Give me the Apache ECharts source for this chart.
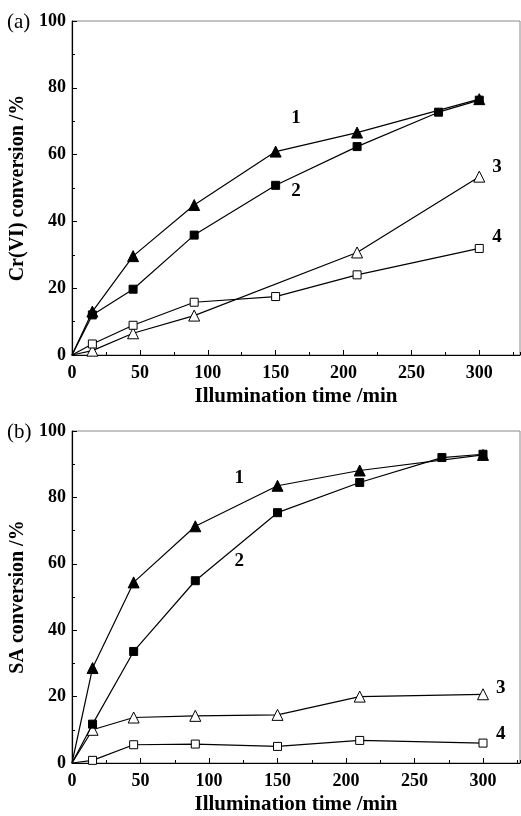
<!DOCTYPE html>
<html>
<head>
<meta charset="utf-8">
<script src="https://cdn.jsdelivr.net/npm/echarts@6/dist/echarts.min.js"></script>
<style>
  html, body { margin: 0; padding: 0; background: #fff; }
  #chart { width: 521px; height: 816px; }
</style>
</head>
<body>
<div id="chart"></div>
<script>
// Panel (a): Cr(VI) conversion vs. illumination time
const aTime1 = [0, 15, 45, 90, 150, 210, 300];
const aConv1 = [0, 13.0, 29.6, 44.9, 60.9, 66.6, 76.6];
const aTime2 = [0, 15, 45, 90, 150, 210, 270, 300];
const aConv2 = [0, 12.0, 19.7, 35.9, 50.8, 62.4, 72.7, 76.3];
const aTime3 = [0, 15, 45, 90, 210, 300];
const aConv3 = [0, 1.3, 6.5, 11.8, 30.7, 53.4];
const aTime4 = [0, 15, 45, 90, 150, 210, 300];
const aConv4 = [0, 3.3, 8.9, 15.8, 17.5, 24.0, 31.9];

// Panel (b): SA conversion vs. illumination time
const bTime1 = [0, 15, 45, 90, 150, 210, 300];
const bConv1 = [0, 28.6, 54.4, 71.3, 83.5, 88.1, 92.8];
const bTime2 = [0, 15, 45, 90, 150, 210, 270, 300];
const bConv2 = [0, 11.7, 33.6, 54.9, 75.4, 84.5, 92.0, 93.0];
const bTime3 = [0, 15, 45, 90, 150, 210, 300];
const bConv3 = [0, 10.0, 13.7, 14.2, 14.5, 20.0, 20.7];
const bTime4 = [0, 15, 45, 90, 150, 210, 300];
const bConv4 = [0, 0.8, 5.5, 5.7, 5.0, 6.8, 6.0];

// Curve number labels placed next to each curve (x, y in data units)
const curveNames = ['1', '2', '3', '4'];
const aLabelPos = [[165, 71], [165, 49], [313, 56.4], [313, 35.4]];
const bLabelPos = [[122, 85.8], [122, 60.9], [313, 22.7], [313, 8.7]];

const xTickLabels = ['0', '50', '100', '150', '200', '250', '300'];
const yTickLabels = ['0', '20', '40', '60', '80', '100'];
const xTitle = 'Illumination time /min';
const yTitleA = 'Cr(VI) conversion /%';
const yTitleB = 'SA conversion /%';

const FONT = 'Liberation Serif';
const chart = echarts.init(document.getElementById('chart'));

const symbols = [
  { symbol: 'triangle', size: 11, fill: '#000' },
  { symbol: 'rect', size: 8, fill: '#000' },
  { symbol: 'triangle', size: 11, fill: '#fff' },
  { symbol: 'rect', size: 8, fill: '#fff' }
];

function pairs(xs, ys) {
  return xs.map((x, i) => i === 0 ? { value: [x, ys[i]], symbol: 'none' } : [x, ys[i]]);
}

function lineSeries(xs, ys, k, gi) {
  const s = symbols[k];
  return {
    type: 'line',
    xAxisIndex: gi * 2,
    yAxisIndex: gi,
    data: pairs(xs, ys),
    symbol: s.symbol,
    symbolSize: s.size,
    showAllSymbol: true,
    lineStyle: { color: '#000', width: 1.2 },
    itemStyle: { color: s.fill, borderColor: '#000', borderWidth: 1 },
    z: 3 + (k < 2 ? 1 : 0),
    silent: true,
    animation: false
  };
}

function labelSeries(pos, gi) {
  return {
    type: 'scatter',
    xAxisIndex: gi * 2,
    yAxisIndex: gi,
    symbol: 'circle',
    symbolSize: 1,
    itemStyle: { color: 'rgba(0,0,0,0)', opacity: 1 },
    data: pos.map((p, i) => ({ value: p, name: curveNames[i] })),
    label: {
      show: true,
      position: 'inside',
      formatter: p => p.name,
      fontFamily: FONT,
      fontWeight: 'bold',
      fontSize: 19,
      color: '#000',
      opacity: 1
    },
    z: 6,
    silent: true,
    animation: false
  };
}

function xAxes(gi, max) {
  return [
    {
      type: 'value', gridIndex: gi, min: 0, max: max, interval: 50,
      name: xTitle, nameLocation: 'middle', nameGap: 31,
      nameTextStyle: { fontFamily: FONT, fontWeight: 'bold', fontSize: 21, color: '#000' },
      axisLine: { show: true, onZero: false, lineStyle: { color: '#000', width: 1.2 } },
      axisTick: { show: true, inside: true, length: 5, lineStyle: { color: '#000' } },
      axisLabel: {
        fontFamily: FONT, fontWeight: 'bold', fontSize: 18, color: '#000', margin: 9,
        showMaxLabel: false,
        formatter: v => xTickLabels.includes(String(v)) ? String(v) : ''
      },
      splitLine: { show: false }
    },
    {
      type: 'value', gridIndex: gi, min: 0, max: max, interval: 25,
      position: 'bottom',
      axisLine: { show: false },
      axisTick: { show: true, inside: true, length: 3, lineStyle: { color: '#000' } },
      axisLabel: { show: false },
      splitLine: { show: false }
    }
  ];
}

function yAxis(gi, title) {
  return {
    type: 'value', gridIndex: gi, min: 0, max: 100, interval: 20,
    name: title, nameLocation: 'middle', nameGap: 42, nameRotate: 90,
    nameTextStyle: { fontFamily: FONT, fontWeight: 'bold', fontSize: 20, color: '#000' },
    axisLine: { show: true, onZero: false, lineStyle: { color: '#000', width: 1.2 } },
    axisTick: { show: true, inside: true, length: 5, lineStyle: { color: '#000' } },
    minorTick: { show: true, splitNumber: 2, length: 3, lineStyle: { color: '#000' } },
    axisLabel: {
      fontFamily: FONT, fontWeight: 'bold', fontSize: 18, color: '#000', margin: 6,
      formatter: v => yTickLabels.includes(String(v)) ? String(v) : ''
    },
    splitLine: { show: false }
  };
}

chart.setOption({
  backgroundColor: '#fff',
  animation: false,
  grid: [
    { left: 72, top: 21, width: 448, height: 334, show: true, borderColor: '#888', borderWidth: 1, backgroundColor: 'transparent' },
    { left: 72, top: 431, width: 448, height: 334, show: true, borderColor: '#888', borderWidth: 1, backgroundColor: 'transparent' }
  ],
  xAxis: [...xAxes(0, 330), ...xAxes(1, 327)],
  yAxis: [yAxis(0, yTitleA), yAxis(1, yTitleB)],
  graphic: [
    { type: 'text', left: 7, top: 12, style: { text: '(a)', font: '21px "Liberation Serif"', fill: '#000' } },
    { type: 'text', left: 7, top: 422, style: { text: '(b)', font: '21px "Liberation Serif"', fill: '#000' } }
  ],
  series: [
    lineSeries(aTime1, aConv1, 0, 0),
    lineSeries(aTime2, aConv2, 1, 0),
    lineSeries(aTime3, aConv3, 2, 0),
    lineSeries(aTime4, aConv4, 3, 0),
    labelSeries(aLabelPos, 0),
    lineSeries(bTime1, bConv1, 0, 1),
    lineSeries(bTime2, bConv2, 1, 1),
    lineSeries(bTime3, bConv3, 2, 1),
    lineSeries(bTime4, bConv4, 3, 1),
    labelSeries(bLabelPos, 1)
  ]
});
</script>
</body>
</html>
